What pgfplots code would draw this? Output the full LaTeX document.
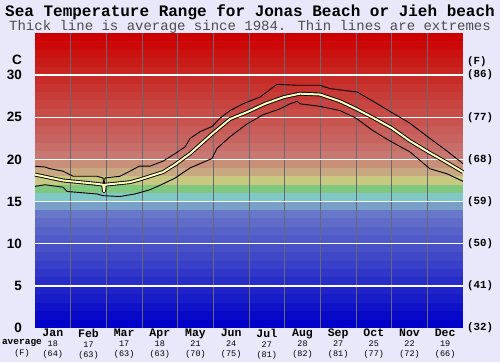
\documentclass[border=0pt]{standalone}
\usepackage{pgfplots}
\pgfplotsset{compat=1.18}
\usepackage{fontspec}
\setmainfont{Liberation Mono}
\newfontfamily\arialf{Liberation Sans}
\definecolor{bg}{RGB}{232,232,250}
\definecolor{avgc}{RGB}{255,255,184}
\definecolor{vgrid}{RGB}{104,104,112}
\begin{document}
\begin{tikzpicture}[x=1pt,y=1pt]
\fill[bg] (0,0) rectangle (500,362);
\useasboundingbox (0,0) rectangle (500,362);
\node[font=\fontsize{16}{16}\selectfont\bfseries] at (250,350) {Sea Temperature Range for Jonas Beach or Jieh beach};
\node[font=\fontsize{14}{14}\selectfont, text=black!70] at (250,335) {Thick line is average since 1984. Thin lines are extremes};
\begin{axis}[at={(35pt,34pt)}, anchor=south west, width=428pt, height=295pt, scale only axis,
  xmin=0, xmax=12, ymin=0, ymax=35,
  axis line style={draw=none}, major tick length=0pt,
  /pgf/number format/assume math mode=true,
  ytick={0,5,10,15,20,25,30},
  yticklabel style={font=\arialf\bfseries\fontsize{13.5}{14}\selectfont, anchor=east, inner sep=0pt, xshift=-13pt},
  xtick={0.5,1.5,2.5,3.5,4.5,5.5,6.5,7.5,8.5,9.5,10.5,11.5},
  xticklabels={
   {{\bfseries\fontsize{11.5}{12}\selectfont Jan}\\18\\(64)},
   {{\bfseries\fontsize{11.5}{12}\selectfont Feb}\\17\\(63)},
   {{\bfseries\fontsize{11.5}{12}\selectfont Mar}\\17\\(63)},
   {{\bfseries\fontsize{11.5}{12}\selectfont Apr}\\18\\(63)},
   {{\bfseries\fontsize{11.5}{12}\selectfont May}\\21\\(70)},
   {{\bfseries\fontsize{11.5}{12}\selectfont Jun}\\24\\(75)},
   {{\bfseries\fontsize{11.5}{12}\selectfont Jul}\\27\\(81)},
   {{\bfseries\fontsize{11.5}{12}\selectfont Aug}\\28\\(82)},
   {{\bfseries\fontsize{11.5}{12}\selectfont Sep}\\27\\(81)},
   {{\bfseries\fontsize{11.5}{12}\selectfont Oct}\\25\\(77)},
   {{\bfseries\fontsize{11.5}{12}\selectfont Nov}\\22\\(72)},
   {{\bfseries\fontsize{11.5}{12}\selectfont Dec}\\19\\(66)}},
  xticklabel style={align=center, font=\fontsize{8.5}{10}\selectfont, anchor=north, inner sep=0pt, yshift=-1pt},
  clip=false]
% background temperature bands
\fill[fill={rgb,255:red,0;green,0;blue,200}] (0,0) rectangle (12,1);
\fill[fill={rgb,255:red,8;green,9;blue,200}] (0,1) rectangle (12,2);
\fill[fill={rgb,255:red,16;green,18;blue,200}] (0,2) rectangle (12,3);
\fill[fill={rgb,255:red,24;green,27;blue,200}] (0,3) rectangle (12,4);
\fill[fill={rgb,255:red,32;green,36;blue,200}] (0,4) rectangle (12,5);
\fill[fill={rgb,255:red,40;green,45;blue,200}] (0,5) rectangle (12,6);
\fill[fill={rgb,255:red,48;green,54;blue,200}] (0,6) rectangle (12,7);
\fill[fill={rgb,255:red,56;green,63;blue,200}] (0,7) rectangle (12,8);
\fill[fill={rgb,255:red,64;green,72;blue,200}] (0,8) rectangle (12,9);
\fill[fill={rgb,255:red,72;green,81;blue,200}] (0,9) rectangle (12,10);
\fill[fill={rgb,255:red,80;green,90;blue,200}] (0,10) rectangle (12,11);
\fill[fill={rgb,255:red,88;green,99;blue,200}] (0,11) rectangle (12,12);
\fill[fill={rgb,255:red,96;green,108;blue,200}] (0,12) rectangle (12,13);
\fill[fill={rgb,255:red,104;green,120;blue,200}] (0,13) rectangle (12,14);
\fill[fill={rgb,255:red,120;green,160;blue,200}] (0,14) rectangle (12,15);
\fill[fill={rgb,255:red,128;green,200;blue,200}] (0,15) rectangle (12,16);
\fill[fill={rgb,255:red,128;green,200;blue,128}] (0,16) rectangle (12,17);
\fill[fill={rgb,255:red,200;green,200;blue,128}] (0,17) rectangle (12,18);
\fill[fill={rgb,255:red,200;green,168;blue,128}] (0,18) rectangle (12,19);
\fill[fill={rgb,255:red,200;green,144;blue,120}] (0,19) rectangle (12,20);
\fill[fill={rgb,255:red,200;green,120;blue,112}] (0,20) rectangle (12,21);
\fill[fill={rgb,255:red,200;green,110;blue,104}] (0,21) rectangle (12,22);
\fill[fill={rgb,255:red,200;green,100;blue,96}] (0,22) rectangle (12,23);
\fill[fill={rgb,255:red,200;green,92;blue,88}] (0,23) rectangle (12,24);
\fill[fill={rgb,255:red,200;green,84;blue,80}] (0,24) rectangle (12,25);
\fill[fill={rgb,255:red,200;green,76;blue,72}] (0,25) rectangle (12,26);
\fill[fill={rgb,255:red,200;green,68;blue,64}] (0,26) rectangle (12,27);
\fill[fill={rgb,255:red,200;green,60;blue,56}] (0,27) rectangle (12,28);
\fill[fill={rgb,255:red,200;green,52;blue,48}] (0,28) rectangle (12,29);
\fill[fill={rgb,255:red,200;green,44;blue,40}] (0,29) rectangle (12,30);
\fill[fill={rgb,255:red,200;green,36;blue,32}] (0,30) rectangle (12,31);
\fill[fill={rgb,255:red,200;green,28;blue,24}] (0,31) rectangle (12,32);
\fill[fill={rgb,255:red,202;green,18;blue,16}] (0,32) rectangle (12,33);
\fill[fill={rgb,255:red,204;green,8;blue,8}] (0,33) rectangle (12,34);
\fill[fill={rgb,255:red,204;green,0;blue,0}] (0,34) rectangle (12,35);
% month separators
\draw[vgrid, line width=1pt] (1,0)--(1,35) (2,0)--(2,35) (3,0)--(3,35) (4,0)--(4,35) (5,0)--(5,35) (6,0)--(6,35) (7,0)--(7,35) (8,0)--(8,35) (9,0)--(9,35) (10,0)--(10,35) (11,0)--(11,35);
% white lines
\draw[white, line width=1.3pt] (0,5)--(12,5) (0,10)--(12,10) (0,15)--(12,15) (0,20)--(12,20) (0,25)--(12,25) (0,30)--(12,30);
% maximum
\addplot[black, line width=0.9pt, line join=round] coordinates {
(0,19.2)(0.28,19.1)(0.42,18.9)(0.79,18.6)(1.07,18.0)(1.74,18.0)(1.91,17.8)(1.935,16.2)(1.96,17.8)
(2.38,18.0)(2.66,18.6)(2.92,19.2)(3.22,19.2)(3.59,19.8)(3.93,20.7)(4.21,21.5)(4.35,22.5)(4.63,23.3)
(4.96,23.9)(5.19,24.9)(5.47,25.8)(5.83,26.6)(6.31,27.4)(6.78,28.9)(7.35,28.8)(7.99,28.8)(8.27,28.4)
(9.03,28.0)(9.48,26.9)(9.95,25.7)(10.51,24.3)(11.07,22.5)(11.55,21.0)(12,19.5)};
% minimum
\addplot[black, line width=0.9pt, line join=round] coordinates {
(0,16.8)(0.28,17.0)(0.79,16.7)(0.90,16.2)(1.74,15.9)(1.91,15.7)(2.38,15.6)(2.80,15.9)(3.22,16.4)
(3.59,17.1)(3.93,17.8)(4.35,19.0)(4.96,20.1)(5.10,21.3)(5.47,22.7)(5.94,24.2)(6.39,25.3)(6.87,26.0)
(7.15,26.6)(7.35,26.9)(7.43,26.6)(7.99,26.3)(8.55,25.8)(9.0,24.9)(9.48,23.4)(9.95,22.2)(10.51,20.9)
(11.07,18.9)(11.55,18.3)(12,17.4)};
% average
\addplot[black, line width=3.8pt, line join=round] coordinates {
(0,18.2)(0.79,17.5)(1.74,17.1)(1.91,17.0)(1.935,16.2)(1.96,17.0)(2.66,17.3)(2.92,17.6)(3.59,18.5)
(3.93,19.4)(4.35,20.7)(4.96,23.0)(5.47,24.8)(5.94,25.6)(6.45,26.6)(6.98,27.4)(7.43,27.8)(7.99,27.7)
(8.55,26.9)(9.0,26.0)(9.50,24.9)(10.01,23.7)(10.51,22.2)(11.02,20.9)(11.52,19.7)(12,18.5)};
\addplot[avgc, line width=2pt, line join=round] coordinates {
(0,18.2)(0.79,17.5)(1.74,17.1)(1.91,17.0)(1.935,16.2)(1.96,17.0)(2.66,17.3)(2.92,17.6)(3.59,18.5)
(3.93,19.4)(4.35,20.7)(4.96,23.0)(5.47,24.8)(5.94,25.6)(6.45,26.6)(6.98,27.4)(7.43,27.8)(7.99,27.7)
(8.55,26.9)(9.0,26.0)(9.50,24.9)(10.01,23.7)(10.51,22.2)(11.02,20.9)(11.52,19.7)(12,18.5)};
\end{axis}
\begin{axis}[at={(35pt,34pt)}, anchor=south west, width=428pt, height=295pt, scale only axis,
  xmin=0, xmax=12, ymin=0, ymax=35,
  axis y line*=right, axis x line=none, y axis line style={draw=none}, major tick length=0pt,
  ytick={0,5,10,15,20,25,30},
  yticklabels={(32),(41),(50),(59),(68),(77),(86)},
  yticklabel style={font=\bfseries\fontsize{10.8}{11}\selectfont, anchor=west, inner sep=0pt, xshift=4pt}]
\end{axis}
\node[anchor=east, inner sep=0pt, font=\arialf\bfseries\fontsize{13.5}{14}\selectfont] at (22,302) {C};
\node[anchor=west, inner sep=0pt, font=\bfseries\fontsize{10.8}{11}\selectfont] at (467,300) {(F)};
\node[inner sep=0pt, font=\bfseries\fontsize{9.5}{10}\selectfont] at (22,19) {average};
\node[inner sep=0pt, font=\fontsize{8.5}{10}\selectfont] at (22,9) {(F)};
\end{tikzpicture}
\end{document}
